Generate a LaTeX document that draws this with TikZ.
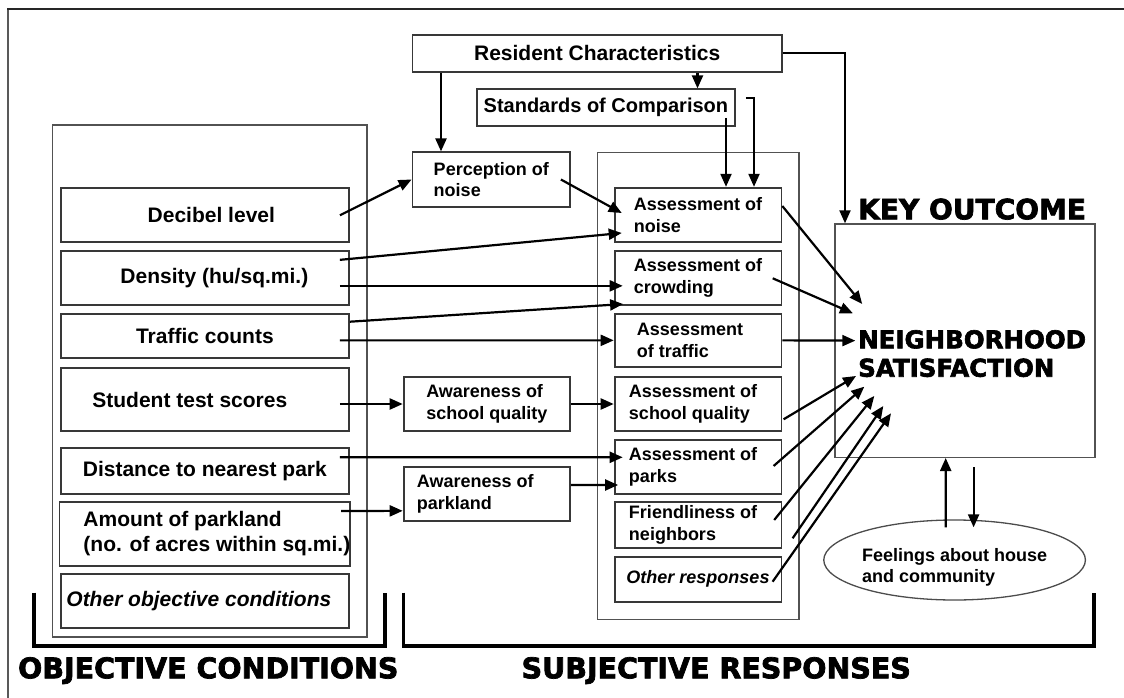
\documentclass[tikz,border=0pt]{standalone}
\usepackage{fontspec}
\setmainfont{Liberation Sans}
\newfontfamily\heavyfont{DejaVu Sans}[UprightFont={* Bold}, FakeBold=2.5]
\usetikzlibrary{arrows.meta,calc,shapes.geometric}

% text sizes
\newcommand\fbig{\fontsize{21}{25}\selectfont\bfseries}
\newcommand\fstd{\fontsize{20}{24}\selectfont\bfseries}
\newcommand\fsmall{\fontsize{18}{21.5}\selectfont\bfseries}
\newcommand\fkey{\heavyfont\fontsize{28}{30}\selectfont}
\newcommand\fsat{\heavyfont\fontsize{24.5}{28.4}\selectfont}
\newcommand\fgroup{\heavyfont\fontsize{28.5}{32}\selectfont}

% rectangle node given by its corners: name, style, x1, y1, x2, y2, text
\newcommand\cornerbox[7]{%
  \node[#2, minimum width={#5-#3}, minimum height={#6-#4}]
    (#1) at ({(#3+#5)/2},{(#4+#6)/2}) {#7};}

\begin{document}
\begin{tikzpicture}[x=1pt,y=-1pt,
  cont/.style={draw=black!68, line width=1.4, inner sep=0},
  obox/.style={draw=black!78, line width=1.8, inner sep=0, align=left, font=\fbig},
  ibox/.style={draw=black!78, line width=1.8, inner sep=0, align=left, font=\fsmall},
  head/.style={inner sep=0},
  arr/.style={line width=2.2, -{Triangle[length=13pt,width=11pt]}},
  brk/.style={line width=3.2, line join=miter}]
\useasboundingbox (0,0) rectangle (1124,698);

% page frame
\draw[line width=2.6, black!65] (8,8.5) -- (8,698);
\draw[line width=1.6, black!85] (7,9) -- (1124,9);

% group containers
\cornerbox{objbox}{cont}{52.5}{125}{366.8}{637}{}
\cornerbox{subbox}{cont}{597.5}{152.7}{799}{619.3}{}
\cornerbox{key}{cont}{835}{224}{1095}{457.3}{}

% upper boxes
\cornerbox{rc}{obox}{412.5}{35}{782}{71.7}{Resident Characteristics}
\cornerbox{std}{ibox, font=\fstd}{476.8}{89.3}{735}{126}{Standards of Comparison}
\cornerbox{perc}{ibox}{412.5}{152.3}{570}{206.7}{Perception of\\noise}

% objective conditions
\cornerbox{dec}{obox}{60.7}{188.3}{349}{242.3}{\hspace*{13pt}Decibel level}
\cornerbox{dens}{obox}{60.7}{250.7}{349}{305}{\hspace*{19pt}Density (hu/sq.mi.)}
\cornerbox{traf}{obox}{60.7}{314}{349}{358}{Traffic counts}
\cornerbox{stud}{obox}{60.7}{368.3}{349}{430.7}{Student test scores\hspace*{30pt}}
\cornerbox{dist}{obox}{60.7}{448.3}{349}{494}{Distance to nearest park}
\cornerbox{amt}{obox}{60.7}{502.3}{349}{565.7}{\hspace*{24pt}Amount of parkland\\\hspace*{24pt}(no. of acres within sq.mi.)}
\cornerbox{othc}{obox}{60.7}{574.3}{349}{628.3}{\itshape Other objective conditions\hspace*{12pt}}

% awareness boxes
\cornerbox{aws}{ibox}{403.6}{377.3}{570}{430.7}{Awareness of\\school quality}
\cornerbox{awp}{ibox}{403.6}{466.7}{570}{521}{Awareness of\hspace*{23pt}\\parkland}

% subjective responses
\cornerbox{nz}{ibox}{614.6}{187.7}{781.4}{242.3}{Assessment of\\noise}
\cornerbox{cr}{ibox}{614.6}{250.7}{781.4}{305}{Assessment of\\crowding}
\cornerbox{tr}{ibox}{614.6}{314}{781.4}{366.7}{Assessment\hspace*{16pt}\\of traffic}
\cornerbox{sq}{ibox}{614.6}{377.3}{781.4}{430.7}{Assessment of\hspace*{10pt}\\school quality}
\cornerbox{pk}{ibox}{614.6}{440}{781.4}{494}{Assessment of\hspace*{10pt}\\parks}
\cornerbox{fr}{ibox}{614.6}{502.3}{781.4}{547.7}{Friendliness of\hspace*{10pt}\\neighbors}
\cornerbox{orr}{ibox}{614.6}{556.7}{781.4}{601.7}{\itshape Other responses}

% outcome
\node[head, font=\fkey, anchor=base west] (keyl) at (858,219.3) {KEY OUTCOME};
\node[head, font=\fsat, anchor=base west] (satA) at (858,348.3) {NEIGHBORHOOD};
\node[head, font=\fsat, anchor=base west] (satB) at (858,376.7) {SATISFACTION};
\node[ellipse, draw=black!70, line width=1.3, minimum width=239, minimum height=80,
      inner sep=0, align=left, font=\fsmall] (feel) at (954.6,560)
      {\rule{0pt}{28pt}Feelings about house\\and community};

% group brackets and titles
\draw[brk] (33.9,592.7) |- (385,646) -- (385,592.7);
\draw[brk] (403.6,592.7) |- (1094,646) -- (1094,592.7);
\node[head, font=\fgroup, anchor=base west] (objl) at (17.9,678.3) {OBJECTIVE CONDITIONS};
\node[head, font=\fgroup, anchor=base west] (subl) at (521.4,678.3) {SUBJECTIVE RESPONSES};

% resident characteristics and standards
\draw[arr] (rc.south -| 441,0) -- (perc.north -| 441,0);
\draw[arr] (rc.south -| 697.5,0) -- (std.north -| 697.5,0);
\draw[arr] (rc.east) -| (key.north -| 845,0);
\draw[arr] ($(std.south -| 726,0)+(0,-9)$) -- (nz.north -| 726,0);
\draw[arr] ($(std.east)+(10,-10)$) -| (nz.north -| 754,0);

% objective conditions to perceptions and assessments
\draw[arr] ($(dec.east)+(-10,0)$) -- (perc.west);
\draw[arr] ($(perc.east)+(-10,0)$) -- ($(nz.west)+(8,-2)$);
\draw[arr] ($(dens.east)+(-10,-18)$) -- ($(nz.west)+(8,18)$);
\draw[arr] ($(dens.east)+(-10,8)$) -- ($(cr.west)+(9,8)$);
\draw[arr] ($(traf.east)+(0,-14.3)$) -- ($(cr.west)+(9.4,26.2)$);
\draw[arr] ($(traf.east)+(-10,4.35)$) -- (tr.west);
\draw[arr] ($(stud.east)+(-10,4.5)$) -- (aws.west);
\draw[arr] (aws.east) -- (sq.west);
\draw[arr] ($(dist.east)+(-10,-13.85)$) -- ($(pk.west)+(9,-9.7)$);
\draw[arr] ($(amt.east)+(-10,-23)$) -- ($(awp.west)+(0,17)$);
\draw[arr] ($(awp.east)+(0,-8.85)$) -- ($(pk.west)+(4.4,18)$);

% assessments to neighborhood satisfaction
\draw[arr] ($(nz.east)+(0,-9)$) -- ($(key.west)+(27.9,-36.65)$);
\draw[arr] ($(cr.east)+(-9.6,0.45)$) -- ($(key.west)+(18.6,-27.35)$);
\draw[arr] (tr.east) -- ($(key.west)+(21,0)$);
\draw[arr] ($(sq.east)+(1.3,15.3)$) -- ($(key.west)+(21.7,35.35)$);
\draw[arr] ($(pk.east)+(-8.7,-1)$) -- ($(key.west)+(30,46.05)$);
\draw[arr] ($(fr.east)+(-8.1,-5)$) -- ($(key.west)+(40,55.35)$);
\draw[arr] ($(fr.east)+(10.3,13.3)$) -- ($(key.west)+(49,65.35)$);
\draw[arr] ($(orr.east)+(-9.7,2.5)$) -- ($(key.west)+(56.7,72.65)$);

% satisfaction and feelings
\draw[arr] ($(feel.north)+(-8.9,8)$) -- ($(key.south)+(-19.3,0)$);
\draw[arr] ($(key.south)+(8.6,9.4)$) -- ($(feel.north)+(19,8)$);
\end{tikzpicture}
\end{document}
